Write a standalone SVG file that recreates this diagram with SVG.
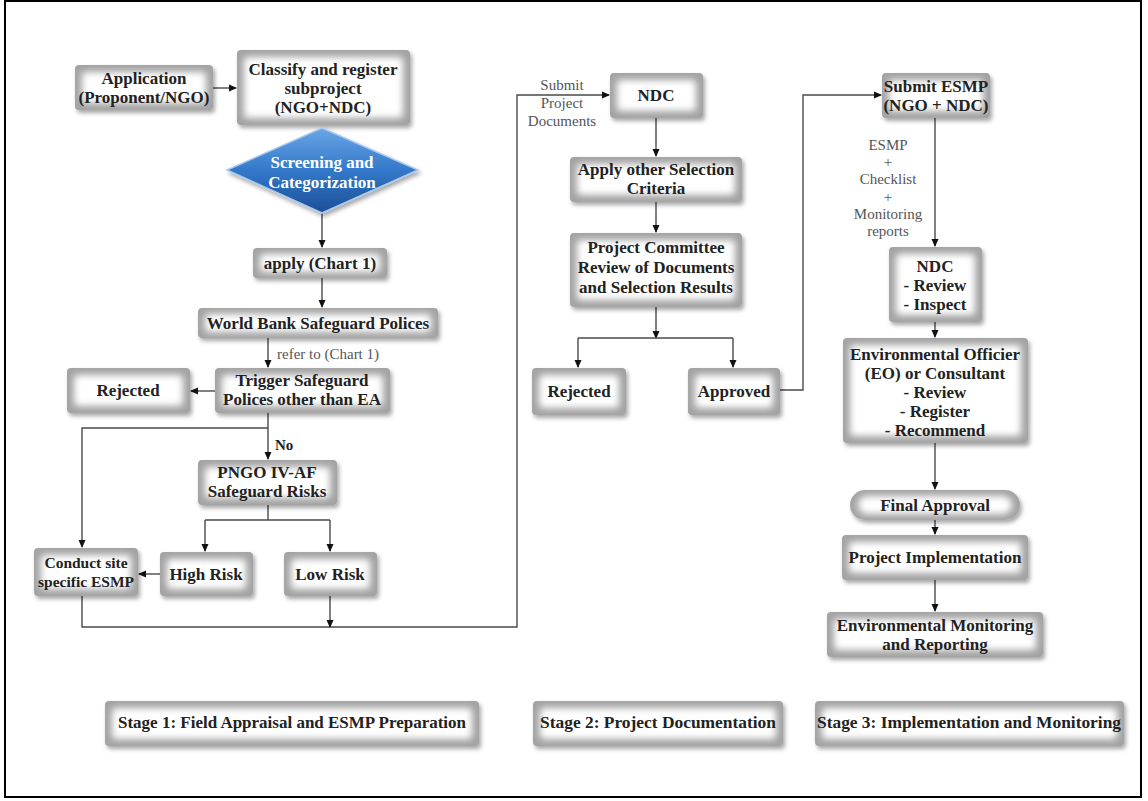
<svg xmlns="http://www.w3.org/2000/svg" width="1148" height="801" viewBox="0 0 1148 801">
<defs>
<filter id="sh" x="-20%" y="-20%" width="140%" height="150%">
<feDropShadow dx="2" dy="3" stdDeviation="2" flood-color="#000" flood-opacity="0.35"/>
</filter>
<filter id="soft" x="-30%" y="-50%" width="160%" height="200%">
<feGaussianBlur stdDeviation="3.5"/>
</filter>
<linearGradient id="blue" x1="0" y1="0" x2="0" y2="1">
<stop offset="0" stop-color="#6aa6e6"/>
<stop offset="0.5" stop-color="#3378c9"/>
<stop offset="1" stop-color="#1c4f97"/>
</linearGradient>
<marker id="ah" markerWidth="8" markerHeight="8" refX="7" refY="4" orient="auto" markerUnits="userSpaceOnUse">
<path d="M0,0.5 L8,4 L0,7.5 z" fill="#111"/>
</marker>
<style>
.bx{fill:#a3a3a3;filter:url(#sh)}
.in{fill:#ffffff;filter:url(#soft)}
.t{font-family:"Liberation Serif","Times New Roman",serif;font-weight:bold;font-size:17px;fill:#222;text-anchor:middle}
.w{fill:#ffffff}
.g{font-family:"Liberation Serif","Times New Roman",serif;font-size:15px;fill:#555;text-anchor:middle}
.c{fill:none;stroke:#4a4a4a;stroke-width:1.4}
.a{marker-end:url(#ah)}
</style>
</defs>
<rect x="0" y="0" width="1148" height="801" fill="#ffffff"/>
<rect x="5" y="1" width="1136" height="796" fill="none" stroke="#000" stroke-width="2"/>

<g id="connectors">
<path class="c a" d="M213,88 H236"/>
<path class="c a" d="M322,213 V247"/>
<path class="c a" d="M322,278 V307"/>
<path class="c a" d="M268,338 V367"/>
<path class="c a" d="M215,391 H191"/>
<path class="c a" d="M268,413 V459"/>
<path class="c a" d="M268,428 H82 V547"/>
<path class="c" d="M268,505 V520 M205,520 H330"/>
<path class="c a" d="M205,520 V551"/>
<path class="c a" d="M330,520 V551"/>
<path class="c a" d="M160,574 H139"/>
<path class="c a" d="M82,596 V627 H517 V95 H609"/>
<path class="c a" d="M330,596 V627"/>
<path class="c a" d="M656,118 V156"/>
<path class="c a" d="M656,202 V232"/>
<path class="c a" d="M656,307 V338"/>
<path class="c" d="M578,338 H733"/>
<path class="c a" d="M578,338 V367"/>
<path class="c a" d="M733,338 V367"/>
<path class="c a" d="M780,390 H803 V95 H881"/>
<path class="c a" d="M935,118 V246"/>
<path class="c a" d="M935,322 V337"/>
<path class="c a" d="M935,443 V489"/>
<path class="c a" d="M935,520 V534"/>
<path class="c a" d="M935,580 V611"/>
<text class="g" x="277" y="359" style="text-anchor:start">refer to (Chart 1)</text>
<text class="t" x="275" y="450" style="text-anchor:start;font-size:15px">No</text>
<text class="g" x="562" y="90">Submit</text>
<text class="g" x="562" y="108">Project</text>
<text class="g" x="562" y="126">Documents</text>
<text class="g" x="888" y="150">ESMP</text>
<text class="g" x="888" y="167">+</text>
<text class="g" x="888" y="184">Checklist</text>
<text class="g" x="888" y="202">+</text>
<text class="g" x="888" y="219">Monitoring</text>
<text class="g" x="888" y="236">reports</text>
</g>

<g id="n-application">
<rect class="bx" x="75" y="65" width="138" height="45" rx="4"/>
<rect class="in" x="82" y="72" width="124" height="31" rx="4"/>
<text class="t" x="144" y="84">Application</text>
<text class="t" x="144" y="103">(Proponent/NGO)</text>
</g>
<g id="n-classify">
<rect class="bx" x="237" y="50" width="173" height="75" rx="4"/>
<rect class="in" x="244" y="57" width="159" height="61" rx="4"/>
<text class="t" x="323" y="75">Classify and register</text>
<text class="t" x="323" y="94">subproject</text>
<text class="t" x="323" y="113">(NGO+NDC)</text>
</g>
<g id="n-screening">
<polygon points="227,170 322,128 418,170 322,213" fill="url(#blue)" stroke="#a9c9ee" stroke-width="1.5" filter="url(#sh)"/>
<text class="t w" x="322" y="168">Screening and</text>
<text class="t w" x="322" y="188">Categorization</text>
</g>
<g id="n-apply">
<rect class="bx" x="253" y="248" width="134" height="30" rx="4"/>
<rect class="in" x="260" y="254" width="120" height="18" rx="4"/>
<text class="t" x="320" y="269">apply (Chart 1)</text>
</g>
<g id="n-worldbank">
<rect class="bx" x="198" y="308" width="240" height="30" rx="4"/>
<rect class="in" x="205" y="314" width="226" height="18" rx="4"/>
<text class="t" x="318" y="329">World Bank Safeguard Polices</text>
</g>
<g id="n-trigger">
<rect class="bx" x="215" y="368" width="175" height="45" rx="4"/>
<rect class="in" x="222" y="375" width="161" height="31" rx="4"/>
<text class="t" x="302" y="386">Trigger Safeguard</text>
<text class="t" x="302" y="405">Polices other than EA</text>
</g>
<g id="n-rejected1">
<rect class="bx" x="67" y="368" width="123" height="45" rx="4"/>
<rect class="in" x="74" y="375" width="109" height="31" rx="4"/>
<text class="t" x="128" y="396">Rejected</text>
</g>
<g id="n-pngo">
<rect class="bx" x="198" y="460" width="139" height="45" rx="4"/>
<rect class="in" x="205" y="467" width="125" height="31" rx="4"/>
<text class="t" x="267" y="478">PNGO IV-AF</text>
<text class="t" x="267" y="497">Safeguard Risks</text>
</g>
<g id="n-highrisk">
<rect class="bx" x="160" y="552" width="93" height="44" rx="4"/>
<rect class="in" x="167" y="559" width="79" height="30" rx="4"/>
<text class="t" x="206" y="580">High Risk</text>
</g>
<g id="n-lowrisk">
<rect class="bx" x="284" y="552" width="93" height="44" rx="4"/>
<rect class="in" x="291" y="559" width="79" height="30" rx="4"/>
<text class="t" x="330" y="580">Low Risk</text>
</g>
<g id="n-conduct">
<rect class="bx" x="34" y="548" width="104" height="48" rx="4"/>
<rect class="in" x="41" y="555" width="90" height="34" rx="4"/>
<text class="t" x="86" y="568" style="font-size:15.5px">Conduct site</text>
<text class="t" x="86" y="587" style="font-size:15.5px">specific ESMP</text>
</g>
<g id="n-ndc">
<rect class="bx" x="610" y="73" width="93" height="45" rx="4"/>
<rect class="in" x="617" y="80" width="79" height="31" rx="4"/>
<text class="t" x="656" y="101">NDC</text>
</g>
<g id="n-applyother">
<rect class="bx" x="570" y="157" width="172" height="45" rx="4"/>
<rect class="in" x="577" y="164" width="158" height="31" rx="4"/>
<text class="t" x="656" y="175">Apply other Selection</text>
<text class="t" x="656" y="194">Criteria</text>
</g>
<g id="n-committee">
<rect class="bx" x="570" y="233" width="172" height="74" rx="4"/>
<rect class="in" x="577" y="240" width="158" height="60" rx="4"/>
<text class="t" x="656" y="253">Project Committee</text>
<text class="t" x="656" y="273">Review of Documents</text>
<text class="t" x="656" y="293">and Selection Results</text>
</g>
<g id="n-rejected2">
<rect class="bx" x="532" y="368" width="94" height="47" rx="4"/>
<rect class="in" x="539" y="375" width="80" height="33" rx="4"/>
<text class="t" x="579" y="397">Rejected</text>
</g>
<g id="n-approved">
<rect class="bx" x="688" y="368" width="92" height="47" rx="4"/>
<rect class="in" x="695" y="375" width="78" height="33" rx="4"/>
<text class="t" x="734" y="397">Approved</text>
</g>
<g id="n-submitesmp">
<rect class="bx" x="882" y="73" width="108" height="45" rx="4"/>
<rect class="in" x="889" y="80" width="94" height="31" rx="4"/>
<text class="t" x="936" y="92">Submit ESMP</text>
<text class="t" x="936" y="111">(NGO + NDC)</text>
</g>
<g id="n-ndcreview">
<rect class="bx" x="889" y="247" width="93" height="75" rx="4"/>
<rect class="in" x="896" y="254" width="79" height="61" rx="4"/>
<text class="t" x="935" y="272">NDC</text>
<text class="t" x="935" y="291">- Review</text>
<text class="t" x="935" y="310">- Inspect</text>
</g>
<g id="n-eo">
<rect class="bx" x="843" y="338" width="185" height="105" rx="4"/>
<rect class="in" x="850" y="345" width="171" height="91" rx="4"/>
<text class="t" x="935" y="360">Environmental Officier</text>
<text class="t" x="935" y="379">(EO) or Consultant</text>
<text class="t" x="935" y="398">- Review</text>
<text class="t" x="935" y="417">- Register</text>
<text class="t" x="935" y="436">- Recommend</text>
</g>
<g id="n-final">
<rect class="bx" x="850" y="490" width="170" height="30" rx="15"/>
<rect class="in" x="858" y="496" width="154" height="18" rx="9"/>
<text class="t" x="935" y="511">Final Approval</text>
</g>
<g id="n-implementation">
<rect class="bx" x="842" y="535" width="186" height="45" rx="4"/>
<rect class="in" x="849" y="542" width="172" height="31" rx="4"/>
<text class="t" x="935" y="563">Project Implementation</text>
</g>
<g id="n-monitoring">
<rect class="bx" x="827" y="612" width="216" height="45" rx="4"/>
<rect class="in" x="834" y="619" width="202" height="31" rx="4"/>
<text class="t" x="935" y="631">Environmental Monitoring</text>
<text class="t" x="935" y="650">and Reporting</text>
</g>
<g id="n-stage1">
<rect class="bx" x="105" y="701" width="374" height="45" rx="4"/>
<rect class="in" x="112" y="708" width="360" height="31" rx="4"/>
<text class="t" x="292" y="728" textLength="348" lengthAdjust="spacingAndGlyphs">Stage 1: Field Appraisal and ESMP Preparation</text>
</g>
<g id="n-stage2">
<rect class="bx" x="533" y="701" width="250" height="45" rx="4"/>
<rect class="in" x="540" y="708" width="236" height="31" rx="4"/>
<text class="t" x="658" y="728" textLength="236" lengthAdjust="spacingAndGlyphs">Stage 2: Project Documentation</text>
</g>
<g id="n-stage3">
<rect class="bx" x="815" y="701" width="309" height="45" rx="4"/>
<rect class="in" x="822" y="708" width="295" height="31" rx="4"/>
<text class="t" x="969" y="728" textLength="304" lengthAdjust="spacingAndGlyphs">Stage 3: Implementation and Monitoring</text>
</g>
</svg>
